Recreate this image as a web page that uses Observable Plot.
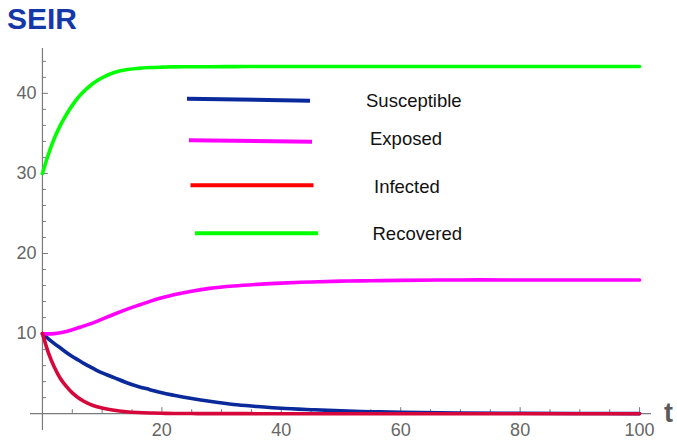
<!DOCTYPE html>
<html>
<head>
<meta charset="utf-8">
<script src="https://cdn.jsdelivr.net/npm/d3@7"></script>
<script src="https://cdn.jsdelivr.net/npm/@observablehq/plot@0.6"></script>
<style>
  html, body { margin: 0; padding: 0; background: #fff; }
  #wrap { position: relative; width: 677px; height: 440px; font-family: "Liberation Sans", Arial, sans-serif; }
  #overlay { position: absolute; left: 0; top: 0; pointer-events: none; }
</style>
</head>
<body>
<div id="wrap"></div>
<script>
// ---- data ----
const tValues = [0,1,2,3,4,5,6,7,8,9,10,12,14,16,18,20,22,25,28,32,36,40,45,50,55,60,70,80,90,100];
const susceptible = [10,9.35,8.75,8.2,7.65,7.15,6.7,6.25,5.85,5.45,5.1,4.5,3.9,3.4,3.0,2.6,2.3,1.9,1.55,1.15,0.9,0.68,0.5,0.35,0.25,0.18,0.09,0.05,0.02,0.01];
const exposed = [10,9.97,10.0,10.1,10.27,10.48,10.72,10.96,11.22,11.5,11.8,12.42,13.0,13.52,14.02,14.47,14.85,15.3,15.65,15.95,16.15,16.3,16.45,16.55,16.6,16.65,16.7,16.7,16.7,16.7];
const infected = [10,7.6,5.8,4.4,3.4,2.6,2.0,1.52,1.17,0.9,0.7,0.42,0.25,0.15,0.09,0.05,0.03,0.015,0.008,0.003,0,0,0,0,0,0,0,0,0,0];
const recovered = [30,32.4,34.4,36.0,37.35,38.5,39.5,40.3,40.95,41.5,41.95,42.6,42.95,43.12,43.22,43.27,43.3,43.32,43.33,43.34,43.35,43.35,43.35,43.35,43.35,43.35,43.35,43.35,43.35,43.35];
const seriesNames = ["Susceptible","Exposed","Infected","Recovered"];
const curveColors = ["#0a2a9c","#ff00ff","#d6083b","#00ff00"];
const legendColors = ["#0a2a9c","#ff00ff","#ff0000","#00ff00"];
const xTickLabels = [20,40,60,80,100];
const yTickLabels = [10,20,30,40];
const xMinorTicks = [5,10,15,25,30,35,45,50,55,65,70,75,85,90,95];
const yMinorTicks = [2,4,6,8,12,14,16,18,22,24,26,28,32,34,36,38,42,44];
const title = "SEIR";
const xAxisLabel = "t";

// ---- build table ----
const seriesValues = [susceptible, exposed, infected, recovered];
const rows = [];
seriesNames.forEach((name, k) => tValues.forEach((t, i) => rows.push({series: name, t, v: seriesValues[k][i]})));

const W = 677, H = 440, mL = 30, mR = 26, mT = 48, mB = 10;
const xDomain = [-2, 102], yDomain = [-2.1, 45.6];
const dyAxis = -(0 - yDomain[0]) * (H - mT - mB) / (yDomain[1] - yDomain[0]);
const dxAxis = (0 - xDomain[0]) * (W - mL - mR) / (xDomain[1] - xDomain[0]);
const axisGray = "#7a7a7a", labelGray = "#666";

const chart = Plot.plot({
  width: W, height: H,
  marginLeft: mL, marginRight: mR, marginTop: mT, marginBottom: mB,
  x: {domain: xDomain, label: null},
  y: {domain: yDomain, label: null},
  color: {domain: seriesNames, range: curveColors},
  style: {background: "transparent", fontFamily: "'Liberation Sans', Arial, sans-serif"},
  marks: [
    Plot.ruleY([0], {stroke: axisGray, strokeWidth: 1.2}),
    Plot.ruleX([0], {stroke: axisGray, strokeWidth: 1.2}),
    Plot.axisX(xMinorTicks, {tickSize: -4, tickFormat: () => "", dy: dyAxis, stroke: axisGray, label: null}),
    Plot.axisX(xTickLabels, {tickSize: -6, tickFormat: () => "", dy: dyAxis, stroke: axisGray, label: null}),
    Plot.axisX(xTickLabels, {tickSize: 0, tickPadding: 10, dy: dyAxis, fontSize: 18, fill: labelGray, label: null}),
    Plot.axisY(yMinorTicks, {tickSize: -4, tickFormat: () => "", dx: dxAxis, stroke: axisGray, label: null}),
    Plot.axisY(yTickLabels, {tickSize: -6, tickFormat: () => "", dx: dxAxis, stroke: axisGray, label: null}),
    Plot.axisY(yTickLabels, {tickSize: 0, tickPadding: 6, dx: dxAxis, fontSize: 18, fill: labelGray, label: null}),
    Plot.line(rows, {x: "t", y: "v", z: "series", stroke: "series", strokeWidth: 3.6, curve: "catmull-rom"})
  ]
});
const wrap = document.getElementById("wrap");
wrap.appendChild(chart);

// ---- overlay: title, axis label, legend ----
const ns = "http://www.w3.org/2000/svg";
const ov = document.createElementNS(ns, "svg");
ov.setAttribute("id", "overlay");
ov.setAttribute("width", W); ov.setAttribute("height", H);
function txt(x, y, s, attrs) {
  const e = document.createElementNS(ns, "text");
  e.setAttribute("x", x); e.setAttribute("y", y);
  e.setAttribute("font-family", "'Liberation Sans', Arial, sans-serif");
  for (const k in attrs) e.setAttribute(k, attrs[k]);
  e.textContent = s; ov.appendChild(e);
}
txt(7, 29, title, {"font-size": 30, "font-weight": "bold", fill: "#1538a8"});
txt(664, 422, xAxisLabel, {"font-size": 27, "font-weight": "bold", fill: "#5a5a5a"});
const legendLines = [[187, 98.7, 310, 100.7], [189, 140.3, 312, 141.7], [190.5, 185.3, 313.5, 185.3], [195, 233.3, 318, 233.3]];
const legendText = [[366, 106.5], [370, 145], [374, 193], [372.5, 240]];
seriesNames.forEach((name, k) => {
  const l = document.createElementNS(ns, "line");
  const [x1, y1, x2, y2] = legendLines[k];
  l.setAttribute("x1", x1); l.setAttribute("y1", y1); l.setAttribute("x2", x2); l.setAttribute("y2", y2);
  l.setAttribute("stroke", legendColors[k]); l.setAttribute("stroke-width", 4);
  ov.appendChild(l);
  txt(legendText[k][0], legendText[k][1], name, {"font-size": 18.5, fill: "#111"});
});
wrap.appendChild(ov);
</script>
</body>
</html>
